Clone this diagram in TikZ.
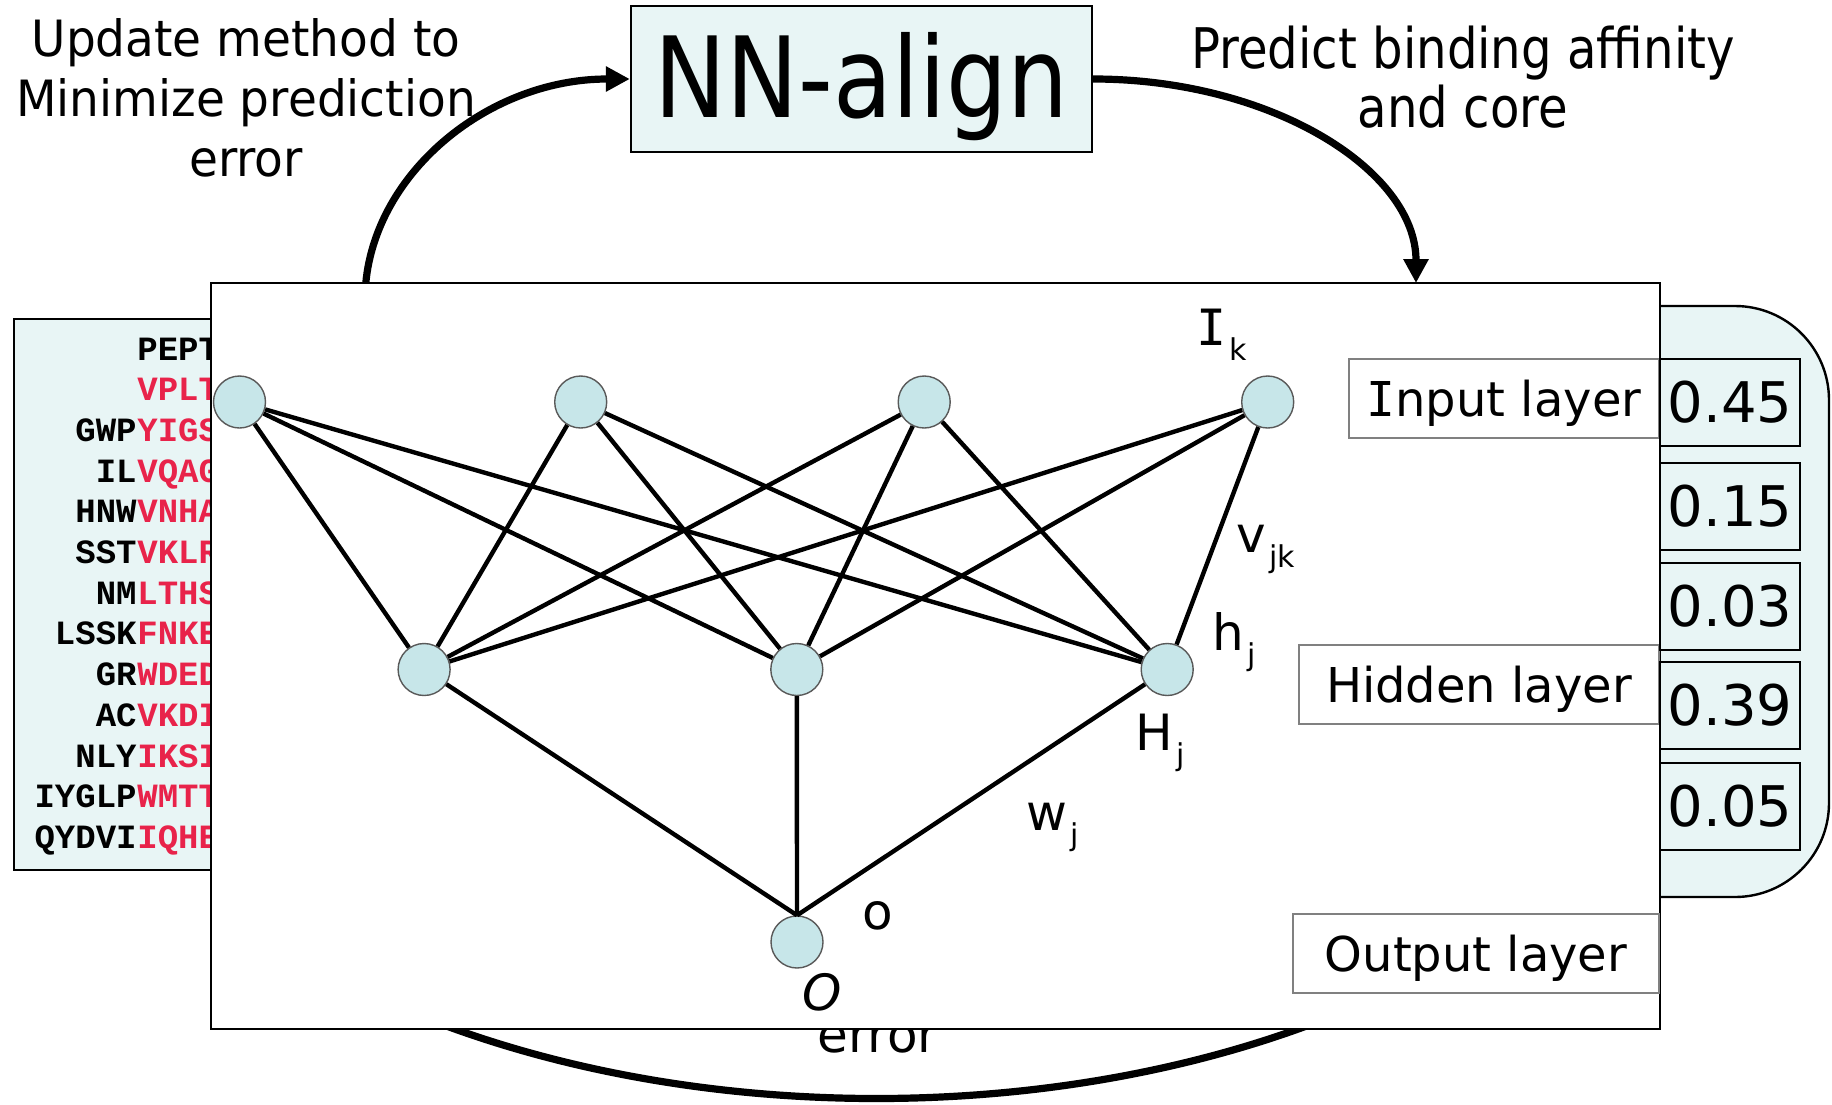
\documentclass[tikz,border=0pt]{standalone}
\usepackage{fontspec}
\setmainfont{DejaVu Sans}
\newfontfamily\nnfont{DejaVu Sans}[FakeStretch=0.86]
\newfontfamily\condfont{DejaVu Sans}[FakeStretch=0.86]
\newfontfamily\updfont{DejaVu Sans}[FakeStretch=0.94]
\newfontfamily\seqfont{Liberation Mono}
\newfontfamily\barifont{DejaVu Sans Mono}
\usetikzlibrary{arrows.meta}
\definecolor{boxfill}{HTML}{E8F5F5}
\definecolor{nodefill}{HTML}{C7E6E9}
\definecolor{seqred}{HTML}{E8234A}
\definecolor{lblgray}{HTML}{808080}
\newcommand{\sbs}[1]{\kern1.5pt\raisebox{-7.5pt}{\fontsize{15}{15}\selectfont #1}}
\newcommand{\barI}{{\barifont I}}
\begin{document}
\begin{tikzpicture}[x=0.5pt,y=-0.5pt,
  cyc/.style={line width=3.6pt},
  tipr/.style={-{Triangle[length=12pt,width=12pt]}},
  neuron/.style={circle, draw=black!65, fill=nodefill, line width=0.7pt, minimum size=26pt, inner sep=0pt},
  syn/.style={line width=2.2pt},
  netlbl/.style={font=\fontsize{25}{25}\selectfont, inner sep=0pt, anchor=base west},
  seqb/.style={font=\seqfont\bfseries\fontsize{17}{17}\selectfont, inner sep=0pt, anchor=base east},
  seqr/.style={font=\seqfont\bfseries\fontsize{17}{17}\selectfont, text=seqred, inner sep=0pt, anchor=base west},
  lyr/.style={draw=lblgray, line width=0.9pt, fill=white, minimum height=39.5pt, inner sep=0pt, font=\fontsize{24}{24}\selectfont, text height=20pt, text depth=2pt},
  val/.style={draw=black, line width=1pt, fill=boxfill, minimum width=70pt, minimum height=43.5pt, inner sep=0pt, font=\fontsize{28}{28}\selectfont},
  updtxt/.style={font=\updfont\fontsize{25}{25}\selectfont, inner sep=0pt, anchor=base},
  predtxt/.style={font=\condfont\fontsize{28}{28}\selectfont, inner sep=0pt, anchor=base},
]
\useasboundingbox (0,0) rectangle (1832,1104);

% bottom arc (behind main box)
\coordinate (b1) at (428,1019);
\coordinate (b2) at (1325,1019);
\draw[cyc] (b1) .. controls (700,1125) and (1053,1125) .. (b2);
\node[inner sep=0pt, anchor=base west, font=\fontsize{25}{25}\selectfont] (err) at (817,1052) {error};

% left sequence box
\draw[fill=boxfill, line width=1.2pt] (14,319) rectangle (300,870);
\foreach \pre/\core [count=\i from 0] in {/PEPT, /VPLT, GWP/YIGS, IL/VQAG, HNW/VNHA, SST/VKLR, NM/LTHS, LSSK/FNKE, GR/WDED, AC/VKDI, NLY/IKSI, IYGLP/WMTT, QYDVI/IQHE}{
  \pgfmathsetmacro{\yy}{360+40.7*\i}
  \ifnum\i=0
    \node[seqr, text=black] (sr\i) at (137,\yy) {\core};
  \else
    \node[seqr] (sr\i) at (137,\yy) {\core};
    \node[seqb] (sb\i) at (137,\yy) {\pre};
  \fi
}

% right rounded box
\draw[fill=boxfill, line width=1.2pt, rounded corners=47pt] (1600,306) -- (1829,306) -- (1829,897) -- (1600,897);

% NN-align box
\node[draw=black, line width=1.2pt, fill=boxfill, minimum width=230.5pt, minimum height=73pt, inner sep=0pt,
      font=\nnfont\fontsize{56}{56}\selectfont, text height=50pt, text depth=12pt] (nn) at (861.5,79) {NN-align};

% left arc into NN-align
\coordinate (c1) at (365,300);
\draw[cyc, tipr] (c1) .. controls (365,180) and (484,79) .. (nn.west);

% main box
\draw[fill=white, line width=1.2pt] (211,283) rectangle (1660,1029);

% right arc from NN-align
\coordinate (c2) at (1416,283);
\draw[cyc, tipr] (nn.east) .. controls (1271,79) and (1416,170) .. (c2);

% network nodes
\node[neuron] (i1) at (239.5,402) {};
\node[neuron] (i2) at (580.7,402) {};
\node[neuron] (i3) at (924.2,402) {};
\node[neuron] (i4) at (1267.7,402) {};
\node[neuron] (h1) at (424.1,669.5) {};
\node[neuron] (h2) at (796.8,669.5) {};
\node[neuron] (h3) at (1167.2,669.5) {};
\node[neuron] (o) at (797,942) {};
\foreach \a in {i1,i2,i3,i4}{
  \foreach \b in {h1,h2,h3}{
    \draw[syn] (\a) -- (\b);
  }
}
\foreach \b in {h1,h2,h3}{
  \draw[syn] (\b) -- (o.north);
}

% network labels
\node[netlbl] (lIk) at (1196,345) {\barI\sbs{k}};
\node[netlbl] (lvjk) at (1236,552) {v\sbs{jk}};
\node[netlbl] (lhj) at (1212,650) {h\sbs{j}};
\node[netlbl] (lHj) at (1135,750) {H\sbs{j}};
\node[netlbl] (lwj) at (1026,830) {w\sbs{j}};
\node[netlbl] (lo) at (862,929) {o};
\node[netlbl] (lO) at (802,1010) {\itshape O};

% layer labels
\node[lyr, minimum width=155pt] (inl) at (1504,398.5) {\barI nput layer};
\node[lyr, minimum width=180pt] (hidl) at (1479,684.5) {Hidden layer};
\node[lyr, minimum width=183pt] (outl) at (1476,953.5) {Output layer};

% values
\node[val] (v1) at (1730,402) {0.45};
\node[val] (v2) at (1730,506) {0.15};
\node[val] (v3) at (1730,606) {0.03};
\node[val] (v4) at (1730,705) {0.39};
\node[val] (v5) at (1730,806) {0.05};

% top texts
\node[updtxt] (u1) at (246,56) {Update method to};
\node[updtxt] (u2) at (246,116) {Minimize prediction};
\node[updtxt] (u3) at (246,176) {error};
\node[predtxt] (p1) at (1463,68) {Predict binding affinity};
\node[predtxt] (p2) at (1463,127) {and core};
\end{tikzpicture}
\end{document}
